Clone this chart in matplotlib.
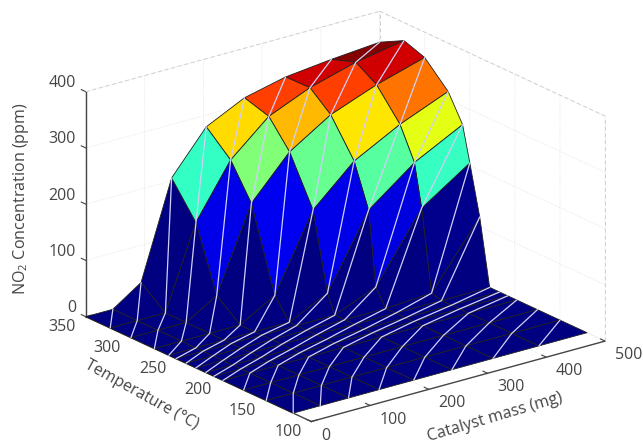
import numpy as np
import matplotlib
matplotlib.use("Agg")
import matplotlib.pyplot as plt
from mpl_toolkits.mplot3d import proj3d

plt.rcParams['font.family'] = ['Open Sans', 'DejaVu Sans']
plt.rcParams['mathtext.default'] = 'regular'

mass = [0, 46, 94, 146, 205, 270, 340, 418, 500]
temperature = [120, 150, 175, 198, 208, 217, 228, 239, 250, 258, 274, 300, 323, 350]
no2 = [
    [0, 0, 0, 0, 0, 0, 0, 0, 0],
    [0, 0, 0, 0, 0, 0, 0, 0, 0],
    [0, 0, 0, 0, 0, 0, 0, 0, 0],
    [0, 0, 0, 0, 0, 0, 0, 0, 0],
    [0, 0, 0, 0, 0, 0, 0, 0, 0],
    [0, 0, 0, 0, 0, 0, 0, 0, 0],
    [0, 0, 0, 0, 0, 0, 0, 0, 0],
    [0, 0, 0, 0, 0, 0, 0, 5, 117],
    [0, 0, 0, 0, 0, 0, 30, 148, 205],
    [0, 0, 0, 0, 0, 33, 161, 223, 267],
    [0, 0, 0, 0, 36, 169, 236, 279, 314],
    [0, 0, 0, 33, 180, 253, 299, 330, 355],
    [0, 0, 0, 146, 240, 299, 330, 353, 368],
    [0, 0, 34, 205, 279, 312, 329, 338, 345],
]
mass_ticks = [0, 100, 200, 300, 400, 500]
temp_ticks = [100, 150, 200, 250, 300, 350]
no2_ticks = [0, 100, 200, 300, 400]
color_max = 355

TXT = '#454545'
fig = plt.figure(figsize=(6.43, 4.44), dpi=100, facecolor='white')
ax = fig.add_axes([0, 0, 1, 1], projection='3d')
ax.set_proj_type('ortho')
ax.view_init(elev=20.9, azim=232.5)
ax.set_box_aspect((369, 369, 240))
ax.computed_zorder = False
ax.patch.set_alpha(0)

X, Y = np.meshgrid(mass, temperature)
Z = np.array(no2, dtype=float)
colors = plt.get_cmap('jet')(np.clip(Z / color_max, 0, 1))
ax.plot_surface(X, Y, Z, facecolors=colors, rstride=1, cstride=1, shade=False,
                edgecolor='#202020', linewidth=0.6, antialiased=True, zorder=3)

# seams along the mesh diagonals
nr, nc = Z.shape
for k in range(-(nc - 2), nr - 1):
    idx = [(i, i - k) for i in range(nr) if 0 <= i - k < nc]
    if len(idx) > 1:
        ax.plot([X[i, j] for i, j in idx], [Y[i, j] for i, j in idx], [Z[i, j] for i, j in idx],
                color='#d0d0fa', lw=0.9, zorder=4, solid_capstyle='round')

ax.set_xlim(0, 500)
ax.set_ylim(100, 350)
ax.set_zlim(0, 400)
ax.set_xticks(mass_ticks)
ax.set_yticks(temp_ticks)
ax.set_zticks(no2_ticks)

# z ticks point along the temperature direction, as in the reference
ax.zaxis._get_tickdir = lambda position: 1

for axis in (ax.xaxis, ax.yaxis, ax.zaxis):
    axis.set_pane_color((1, 1, 1, 0))
    axis.pane.set_edgecolor((1, 1, 1, 0))
    axis.line.set_color(TXT)
    axis.line.set_linewidth(1.0)
    axis._axinfo['grid'].update(color='#dadada', linewidth=0.5, linestyle=':')
    axis._axinfo['tick'].update(inward_factor=0.0, outward_factor=0.25, linewidth={True: 0.8, False: 0.5})
ax.tick_params(axis='x', labelsize=11.5, labelcolor=TXT, color=TXT, pad=1)
ax.tick_params(axis='y', labelsize=11.5, labelcolor=TXT, color=TXT, pad=-1)
ax.tick_params(axis='z', labelsize=11.5, labelcolor=TXT, color=TXT, pad=-4)
for lab in ax.get_xticklabels():
    lab.set_ha('left')
    lab.set_va('center')
for lab in ax.get_yticklabels():
    lab.set_ha('right')
    lab.set_va('center')
for lab in ax.get_zticklabels():
    lab.set_ha('right')
    lab.set_va('bottom')

fig.text(495 / 643, 1 - 417 / 444, 'Catalyst mass (mg)', fontsize=11.6, color=TXT,
         rotation=16.5, ha='center', va='center', rotation_mode='anchor')
fig.text(142 / 643, 1 - 395 / 444, 'Temperature (°C)', fontsize=11.4, color=TXT,
         rotation=-29, ha='center', va='center', rotation_mode='anchor')
fig.text(21 / 643, 1 - 199 / 444, 'NO$_2$ Concentration (ppm)', fontsize=11.6, color=TXT,
         rotation=90, ha='center', va='center', rotation_mode='anchor')

# dashed box edges
edge = dict(color='#cfcfcf', lw=0.7, ls=(0, (4, 3)), zorder=1)
ax.plot([0, 500], [350, 350], [400, 400], **edge)
ax.plot([500, 500], [350, 100], [400, 400], **edge)
ax.plot([500, 500], [350, 350], [0, 400], **edge)
ax.plot([500, 500], [100, 100], [0, 400], **edge)

# fit the box onto the figure: corners of the floor and height
targets = {(0, 350, 0): (85, 316), (500, 100, 0): (605, 341), (0, 100, 0): (313, 421), (0, 350, 400): (85, 93)}
for _ in range(3):
    fig.canvas.draw()
    M = ax.get_proj()
    src, dst = [], []
    for p, t in targets.items():
        a, b, _c = proj3d.proj_transform(*p, M)
        src.append(ax.transData.transform((a, b)))
        dst.append((t[0], 444 - t[1]))
    src, dst = np.array(src), np.array(dst)
    s = np.sqrt(((dst - dst.mean(0)) ** 2).sum() / ((src - src.mean(0)) ** 2).sum())
    pos = ax.get_position()
    cx, cy = pos.x0 * 643 + pos.width * 643 / 2, pos.y0 * 444 + pos.height * 444 / 2
    off = dst.mean(0) - (cx + s * (src.mean(0)[0] - cx), cy + s * (src.mean(0)[1] - cy))
    w, h = pos.width * 643 * s, pos.height * 444 * s
    ncx, ncy = cx + off[0], cy + off[1]
    ax.set_position([(ncx - w / 2) / 643, (ncy - h / 2) / 444, w / 643, h / 444])

fig.savefig('out.png', dpi=100)
